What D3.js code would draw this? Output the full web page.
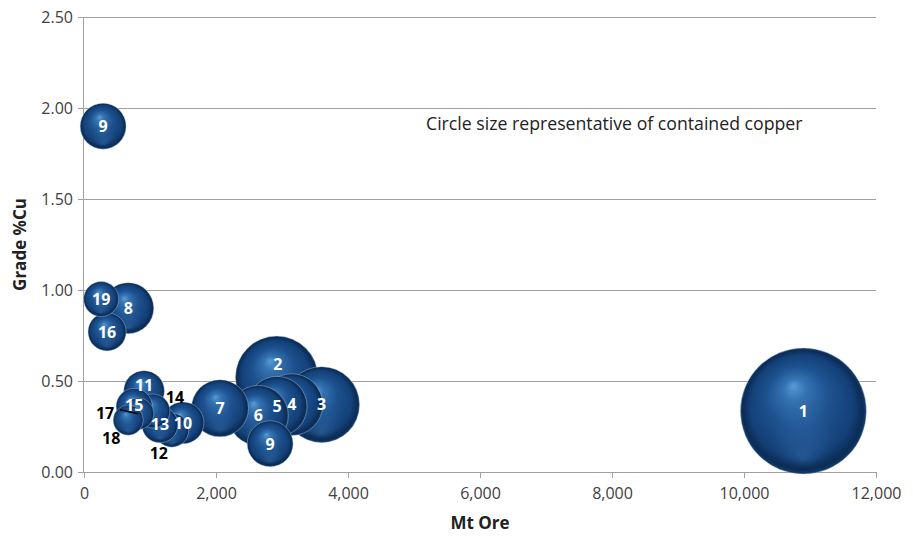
<!DOCTYPE html>
<html>
<head>
<meta charset="utf-8">
<script src="https://cdn.jsdelivr.net/npm/d3@7"></script>
<style>
  html, body { margin: 0; padding: 0; background: #fff; }
  svg { display: block; font-family: "Open Sans", "DejaVu Sans", sans-serif; }
</style>
</head>
<body>
<svg id="chart" width="913" height="536"></svg>
<script>
// Deposit labels, in drawing order
const depositIds = ["1","2","3","4","5","6","7","8","9","10","11","12","13","14","15","16","17","18","19","9"];
// Ore tonnage (Mt)
const oreMt = [10900, 2920, 3600, 3150, 2925, 2640, 2060, 670, 2820, 1500, 910, 1330, 1150, 1045, 760, 350, 820, 670, 260, 290];
// Copper grade (%Cu)
const gradeCu = [0.335, 0.52, 0.37, 0.37, 0.36, 0.31, 0.35, 0.90, 0.155, 0.27, 0.445, 0.23, 0.26, 0.335, 0.36, 0.77, 0.32, 0.285, 0.95, 1.90];
// Contained copper (Mt Cu) -> bubble area
const containedCu = [31.6, 13.6, 11.5, 7.6, 7.2, 7.2, 6.5, 5.2, 4.2, 3.5, 3.3, 2.3, 2.6, 2.3, 2.6, 2.9, 2.0, 1.8, 2.45, 4.2];

const xTicks = [0, 2000, 4000, 6000, 8000, 10000, 12000];
const yTicks = [0, 0.5, 1.0, 1.5, 2.0, 2.5];

const svg = d3.select("#chart");
const W = 913, H = 536;
const margin = { left: 84, right: 37, top: 17, bottom: 64 };

const x = d3.scaleLinear().domain([0, 12000]).range([margin.left, W - margin.right]);
const y = d3.scaleLinear().domain([0, 2.5]).range([H - margin.bottom, margin.top]);
const r = d3.scaleSqrt().domain([0, d3.max(containedCu)]).range([0, 63]);

// Sphere shading
const defs = svg.append("defs");
const grad = defs.append("radialGradient")
  .attr("id", "sphere")
  .attr("cx", "50%").attr("cy", "50%").attr("r", "50%")
  .attr("fx", "42%").attr("fy", "30%");
[
  [0, "#5a9bd8"],
  [0.18, "#3574b4"],
  [0.5, "#1d5290"],
  [0.82, "#134078"],
  [0.95, "#0b2c55"],
  [1, "#143d6b"]
].forEach(([o, c]) => grad.append("stop").attr("offset", o).attr("stop-color", c));

const rim = defs.append("radialGradient")
  .attr("id", "rim")
  .attr("cx", "50%").attr("cy", "50%").attr("r", "50%")
  .attr("fx", "50%").attr("fy", "88%");
[
  [0, "rgba(80,140,200,0.28)"],
  [0.35, "rgba(60,120,185,0.10)"],
  [0.7, "rgba(0,0,0,0)"],
  [1, "rgba(0,0,0,0)"]
].forEach(([o, c]) => rim.append("stop").attr("offset", o).attr("stop-color", c));

// Gridlines
svg.append("g")
  .selectAll("line")
  .data(yTicks.filter(t => t > 0))
  .join("line")
  .attr("x1", x(0)).attr("x2", x(12000))
  .attr("y1", d => Math.round(y(d)) + 0.5).attr("y2", d => Math.round(y(d)) + 0.5)
  .attr("stroke", "#a0a0a0").attr("stroke-width", 1);

// Y axis
const yAxis = svg.append("g")
  .attr("transform", `translate(${x(0)},0)`)
  .call(d3.axisLeft(y).tickValues(yTicks).tickFormat(d3.format(".2f")).tickSize(6).tickPadding(5));
yAxis.select(".domain").attr("stroke", "#a0a0a0").attr("d", `M-0.5,${y(2.5)}V${y(0)}`);
yAxis.selectAll(".tick line").attr("stroke", "#a0a0a0");
yAxis.selectAll(".tick text").attr("fill", "#404040").style("font-size", "16px")
  .style("font-family", "'Open Sans', sans-serif");

// X axis
const xAxis = svg.append("g")
  .attr("transform", `translate(0,${y(0)})`)
  .call(d3.axisBottom(x).tickValues(xTicks).tickFormat(d3.format(",")).tickSize(6).tickPadding(10));
xAxis.select(".domain").attr("stroke", "#a0a0a0").attr("d", `M${x(0)},0.5H${x(12000)}`);
xAxis.selectAll(".tick line").attr("stroke", "#a0a0a0");
xAxis.selectAll(".tick text").attr("fill", "#404040").style("font-size", "16px")
  .style("font-family", "'Open Sans', sans-serif");

// Bubbles
const data = depositIds.map((id, i) => ({ id, ore: oreMt[i], grade: gradeCu[i], cu: containedCu[i] }));

const bubbles = svg.append("g");
bubbles.selectAll("g")
  .data(data)
  .join("g")
  .each(function(d) {
    const g = d3.select(this);
    g.append("circle")
      .attr("cx", x(d.ore)).attr("cy", y(d.grade)).attr("r", r(d.cu))
      .attr("fill", "url(#sphere)")
      .attr("stroke", "rgba(190,210,235,0.55)").attr("stroke-width", 0.7);
    g.append("circle")
      .attr("cx", x(d.ore)).attr("cy", y(d.grade)).attr("r", r(d.cu))
      .attr("fill", "url(#rim)");
  });

// Label placement: moved labels sit outside their bubble in black
const labelShift = { 1: [1, -13], 10: [0, -6], 14: [0, -1], 11: [-13, 23], 13: [22, -14], 16: [-33, -1], 17: [-17, 18] };
const outside = new Set([11, 13, 16, 17]);

const labels = svg.append("g");
data.forEach((d, i) => {
  const s = labelShift[i] || [0, 0];
  const lx = x(d.ore) + s[0], ly = y(d.grade) + s[1];
  labels.append("text")
    .attr("x", lx).attr("y", ly)
    .attr("dy", "0.36em")
    .attr("text-anchor", "middle")
    .attr("fill", outside.has(i) ? "#000" : "#fff")
    .style("font-size", "16px").style("font-weight", "700")
    .text(d.id);
});

// Leader line for deposit 17
{
  const d = data[16];
  const s = labelShift[16];
  labels.append("path")
    .attr("d", d3.line()([[x(d.ore) + s[0] + 15, y(d.grade) + s[1] - 3], [x(d.ore), y(d.grade)]]))
    .attr("stroke", "#000").attr("stroke-width", 1.5).attr("fill", "none");
}

// Annotation
svg.append("text")
  .attr("x", 426).attr("y", 124).attr("dy", "0.36em")
  .attr("fill", "#222")
  .style("font-size", "17.7px")
  .text("Circle size representative of contained copper");

// Axis titles
svg.append("text")
  .attr("x", (x(0) + x(12000)) / 2).attr("y", 523).attr("dy", "0.36em")
  .attr("text-anchor", "middle")
  .style("font-size", "17px").style("font-weight", "700").attr("fill", "#222")
  .text("Mt Ore");

svg.append("text")
  .attr("transform", `translate(20,${(y(0) + y(2.5)) / 2}) rotate(-90)`)
  .attr("dy", "0.36em")
  .attr("text-anchor", "middle")
  .style("font-size", "17px").style("font-weight", "700").attr("fill", "#222")
  .text("Grade %Cu");
</script>
</body>
</html>
